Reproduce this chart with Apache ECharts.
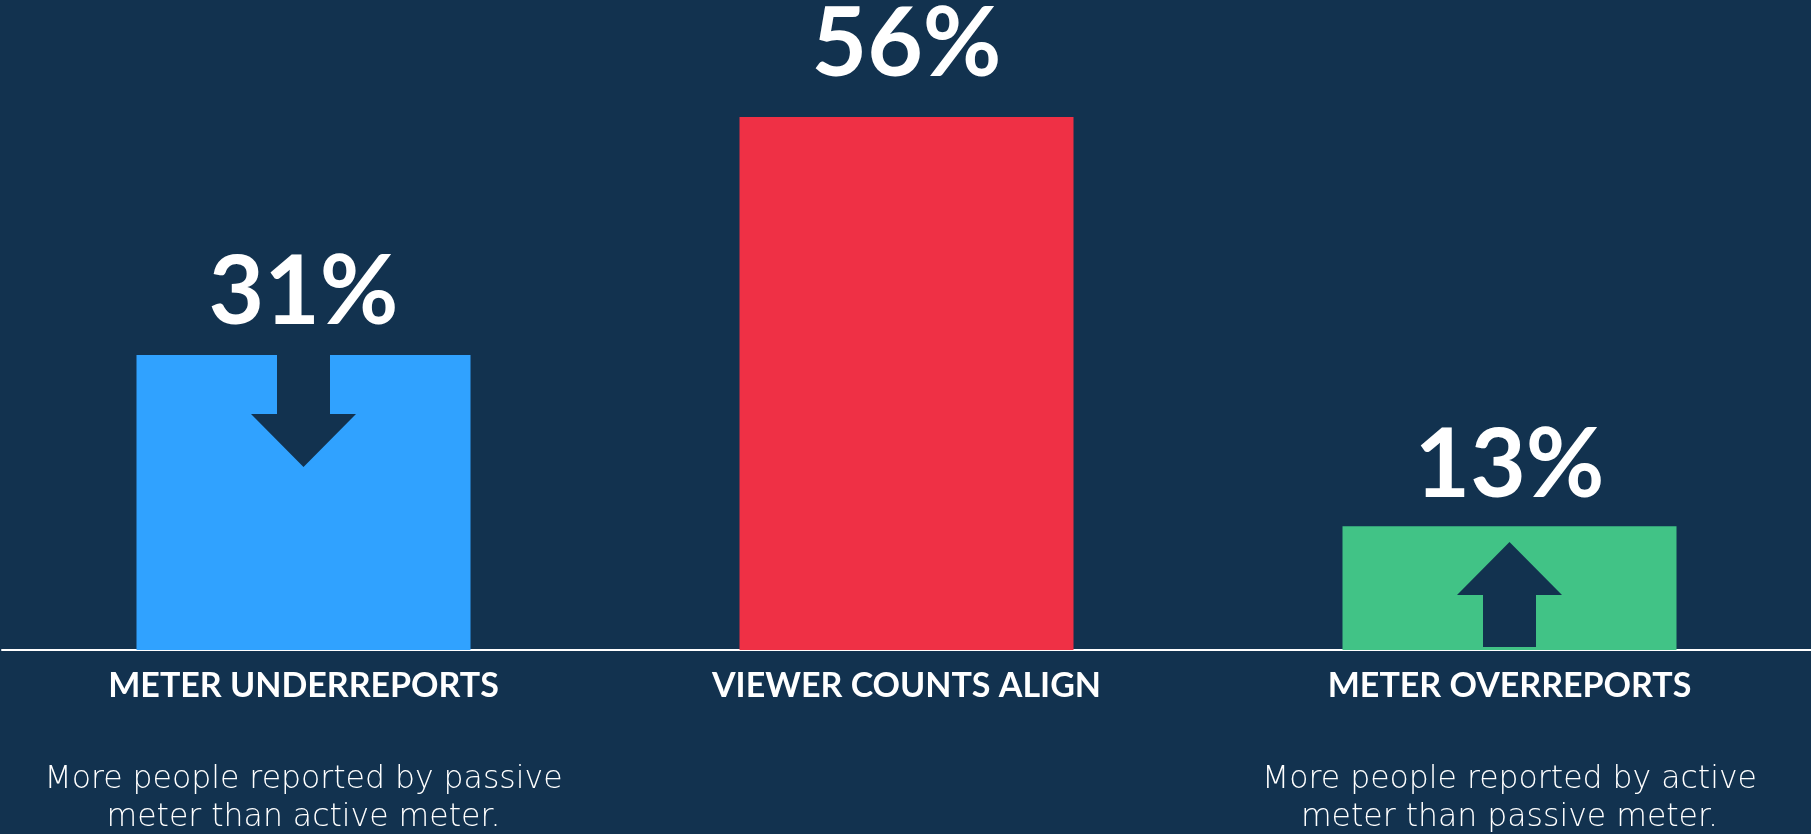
<!DOCTYPE html>
<html>
<head>
<meta charset="utf-8">
<style>
  html, body { margin: 0; padding: 0; background: #12324F; }
  #chart { width: 1811px; height: 834px; }
</style>
<script src="https://cdn.jsdelivr.net/npm/echarts@6/dist/echarts.min.js"></script>
</head>
<body>
<div id="chart"></div>
<script>
// ---- data ----
var categories = ['METER UNDERREPORTS', 'VIEWER COUNTS ALIGN', 'METER OVERREPORTS'];
var values = [31, 56, 13];
var descriptions = [
  ['More people reported by passive', 'meter than active meter.'],
  [],
  ['More people reported by active', 'meter than passive meter.']
];

// ---- styling ----
var BG = '#12324F';
var barColors = ['#30A2FF', '#EF3045', '#41C386'];
var labelGaps = [14, 24, 12];

var downArrow = 'path://M26 0 L79 0 L79 59 L105 59 L52.5 112 L0 59 L26 59 Z';
var upArrow = 'path://M52.5 0 L105 53 L79 53 L79 105 L26 105 L26 53 L0 53 Z';

var chart = echarts.init(document.getElementById('chart'));

var seriesData = values.map(function (v, i) {
  return {
    value: v,
    itemStyle: { color: barColors[i] },
    label: { distance: labelGaps[i] }
  };
});

var option = {
  backgroundColor: BG,
  animation: false,
  grid: { left: 2, right: 0, top: 79, bottom: 183, containLabel: false },
  xAxis: {
    type: 'category',
    data: categories,
    axisLine: { show: true, lineStyle: { color: '#FFFFFF', width: 2 } },
    axisTick: { show: false },
    axisLabel: {
      margin: 14,
      interval: 0,
      formatter: function (val, idx) {
        var s = '{t|' + val + '}';
        var d = descriptions[idx] || [];
        if (d.length) {
          s += '\n{s|}';
          d.forEach(function (line) { s += '\n{d|' + line + '}'; });
        }
        return s;
      },
      rich: {
        t: { fontFamily: 'Lato', fontWeight: 'bold', fontSize: 34, color: '#FFFFFF', lineHeight: 44 },
        s: { lineHeight: 53 },
        d: { fontFamily: 'DejaVu Sans', fontWeight: 200, fontSize: 31.5, color: '#FFFFFF', lineHeight: 38 }
      }
    }
  },
  yAxis: {
    type: 'value',
    min: 0,
    max: 60,
    show: false,
    splitLine: { show: false }
  },
  series: [{
    type: 'bar',
    data: seriesData,
    barWidth: 334,
    label: {
      show: true,
      position: 'top',
      formatter: '{c}%',
      fontFamily: 'Lato',
      fontWeight: 'bold',
      fontSize: 96,
      color: '#FFFFFF'
    },
    markPoint: {
      silent: true,
      label: { show: false },
      data: [
        {
          coord: [categories[0], values[0]],
          symbol: downArrow,
          symbolSize: [105, 112],
          symbolOffset: [0, 56],
          itemStyle: { color: BG }
        },
        {
          coord: [categories[2], 0],
          symbol: upArrow,
          symbolSize: [105, 105],
          symbolOffset: [0, -55.5],
          itemStyle: { color: BG }
        }
      ]
    }
  }]
};

chart.setOption(option);
</script>
</body>
</html>
